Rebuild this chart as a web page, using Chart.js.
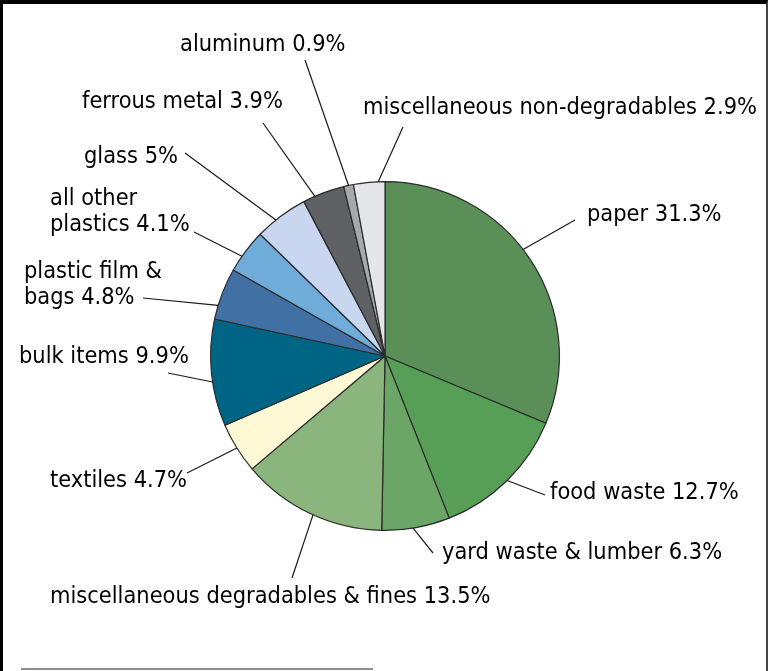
<!DOCTYPE html>
<html>
<head>
<meta charset="utf-8">
<script src="https://cdn.jsdelivr.net/npm/chart.js@4/dist/chart.umd.min.js"></script>
<style>
  html, body { margin: 0; padding: 0; background: #fff; }
  #wrap { position: relative; width: 768px; height: 671px; overflow: hidden; }
  #frame {
    position: absolute; left: 0; top: 0; width: 768px; height: 700px;
    box-sizing: border-box; border-left: 3px solid #000; border-top: 4px solid #000;
    border-right: 2px solid #444; pointer-events: none;
  }
  #rule { position: absolute; left: 21px; top: 668px; width: 352px; height: 2px; background: #8a9096; }
  canvas { position: absolute; left: 0; top: 0; }
</style>
</head>
<body>
<div id="wrap">
  <canvas id="c" width="768" height="671"></canvas>
  <div id="frame"></div>
  <div id="rule"></div>
</div>
<script>
// Composition of discarded waste, by share of total (%)
const categories = [
  ['paper'],
  ['food waste'],
  ['yard waste & lumber'],
  ['miscellaneous degradables & fines'],
  ['textiles'],
  ['bulk items'],
  ['plastic film &', 'bags'],
  ['all other', 'plastics'],
  ['glass'],
  ['ferrous metal'],
  ['aluminum'],
  ['miscellaneous non-degradables']
];
const shares = [31.3, 12.7, 6.3, 13.5, 4.7, 9.9, 4.8, 4.1, 5, 3.9, 0.9, 2.9];
const sliceColors = [
  '#5b8f58', '#579f56', '#6ba667', '#8ab57c', '#fff9d6', '#006485',
  '#4170a5', '#70acd9', '#c9d6ef', '#5f6164', '#a6a8ab', '#e5e6ea'
];

// Label placement: text anchor (left edge, centre of first line), leader end, angle nudge (deg)
const labelX = [587, 550, 442, 50, 50, 19, 24, 50, 84, 82, 180, 363];
const labelY = [215, 493, 553, 597, 481, 357, 272, 199, 157, 102, 45, 108];
const leadX  = [575, 545, 433, 292, 187, 168, 143, 194, 185, 263, 305, 403];
const leadY  = [220, 495, 553, 578, 473, 373, 298, 232, 153, 123, 60, 127];
const nudge  = [-4, 0, 1, -1, 0, -3, -4, -2, -2, -3, 0, 3];

const FONT = '23px "DejaVu Sans Condensed", "Liberation Sans Narrow", sans-serif';
const LINE_H = 26;

const calloutPlugin = {
  id: 'callouts',
  afterDatasetsDraw(chart) {
    const ctx = chart.ctx;
    const arcs = chart.getDatasetMeta(0).data;
    ctx.save();
    ctx.font = FONT;
    // one horizontal squeeze for every label, set by the widest label
    const widest = categories[11][0] + ' ' + shares[11] + '%';
    const sx = 394 / ctx.measureText(widest).width;

    arcs.forEach((arc, i) => {
      const p = arc.getProps(['x', 'y', 'startAngle', 'endAngle', 'outerRadius'], true);
      const mid = (p.startAngle + p.endAngle) / 2 + nudge[i] * Math.PI / 180;
      const ex = p.x + Math.cos(mid) * p.outerRadius;
      const ey = p.y + Math.sin(mid) * p.outerRadius;
      ctx.strokeStyle = '#1a1a1a';
      ctx.lineWidth = 1.2;
      ctx.beginPath();
      ctx.moveTo(leadX[i], leadY[i]);
      ctx.lineTo(ex, ey);
      ctx.stroke();

      const lines = categories[i].slice();
      lines[lines.length - 1] += ' ' + shares[i] + '%';
      ctx.fillStyle = '#000';
      ctx.textAlign = 'left';
      ctx.textBaseline = 'middle';
      lines.forEach((t, k) => {
        ctx.save();
        ctx.translate(labelX[i], labelY[i] + k * LINE_H);
        ctx.scale(sx, 1);
        ctx.fillText(t, 0, 0);
        ctx.restore();
      });
    });
    ctx.restore();
  }
};

new Chart(document.getElementById('c'), {
  type: 'pie',
  data: {
    labels: categories.map(c => c.join(' ')),
    datasets: [{
      data: shares,
      backgroundColor: sliceColors,
      borderColor: '#2b2b2b',
      borderWidth: 1.2
    }]
  },
  options: {
    responsive: false,
    animation: false,
    events: [],
    layout: { padding: { left: 210, right: 208, top: 181, bottom: 140 } },
    plugins: { legend: { display: false }, tooltip: { enabled: false } }
  },
  plugins: [calloutPlugin]
});
</script>
</body>
</html>
